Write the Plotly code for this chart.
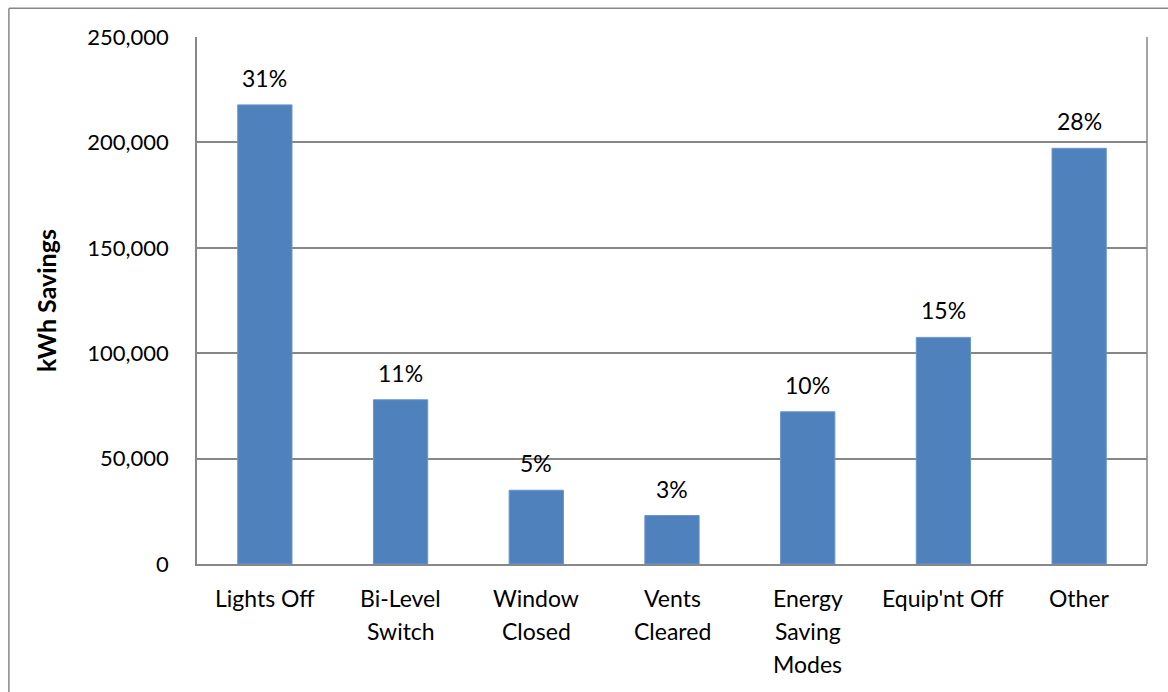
import plotly.graph_objects as go

categories = ["Lights Off", "Bi-Level Switch", "Window Closed", "Vents Cleared",
              "Energy Saving Modes", "Equip'nt Off", "Other"]
label_lines = [["Lights Off"], ["Bi-Level", "Switch"], ["Window", "Closed"],
               ["Vents", "Cleared"], ["Energy", "Saving", "Modes"],
               ["Equip'nt Off"], ["Other"]]
savings = [217800, 77900, 35000, 23000, 72200, 107500, 197200]
pct_labels = ["31%", "11%", "5%", "3%", "10%", "15%", "28%"]

FONT = "Lato, 'Open Sans', sans-serif"
BAR = "#4F81BD"
GRID = "#878787"

fig = go.Figure()
fig.add_trace(go.Bar(
    x=categories, y=savings,
    marker=dict(color=BAR, line=dict(color="#6A96CC", width=1)),
    hoverinfo="x+y",
))

annotations = []
for c, v, p in zip(categories, savings, pct_labels):
    annotations.append(dict(x=c, y=v, xref="x", yref="y", text=p, showarrow=False,
                            yanchor="middle", yshift=27,
                            font=dict(family=FONT, size=23, color="#000")))
for c, lines in zip(categories, label_lines):
    for i, t in enumerate(lines):
        annotations.append(dict(x=c, y=0, xref="x", yref="paper", text=t, showarrow=False,
                                yanchor="middle", yshift=-34 - 33 * i,
                                font=dict(family=FONT, size=23, color="#000")))

fig.update_layout(
    width=1168, height=692,
    margin=dict(l=197, r=21, t=37, b=128),
    paper_bgcolor="white", plot_bgcolor="white",
    bargap=0.6,
    showlegend=False,
    font=dict(family=FONT, size=22, color="#000"),
    annotations=annotations,
    shapes=[
        dict(type="line", xref="paper", yref="paper", x0=-0.198, x1=1.05, y0=1.0545, y1=1.0545,
             line=dict(color=GRID, width=1.5)),
        dict(type="line", xref="paper", yref="paper", x0=-0.198, x1=-0.198, y0=1.0545, y1=-0.26,
             line=dict(color=GRID, width=1.5)),
        dict(type="line", xref="paper", yref="paper", x0=1, x1=1, y0=0, y1=1,
             line=dict(color=GRID, width=1.5)),
    ],
)
fig.update_xaxes(showticklabels=False, showline=True, linecolor=GRID, linewidth=1.5,
                 showgrid=False, ticks="")
fig.update_yaxes(range=[0, 250000], dtick=50000, tickformat=",d",
                 showgrid=True, gridcolor=GRID, gridwidth=1.5,
                 showline=True, linecolor=GRID, linewidth=1.5, zeroline=False,
                 ticks="", ticklabelstandoff=22,
                 tickfont=dict(family=FONT, size=22, color="#000"),
                 title=dict(text="<b>kWh Savings</b>", standoff=24,
                            font=dict(family=FONT, size=25, color="#000")))

fig.write_html("out.html")
